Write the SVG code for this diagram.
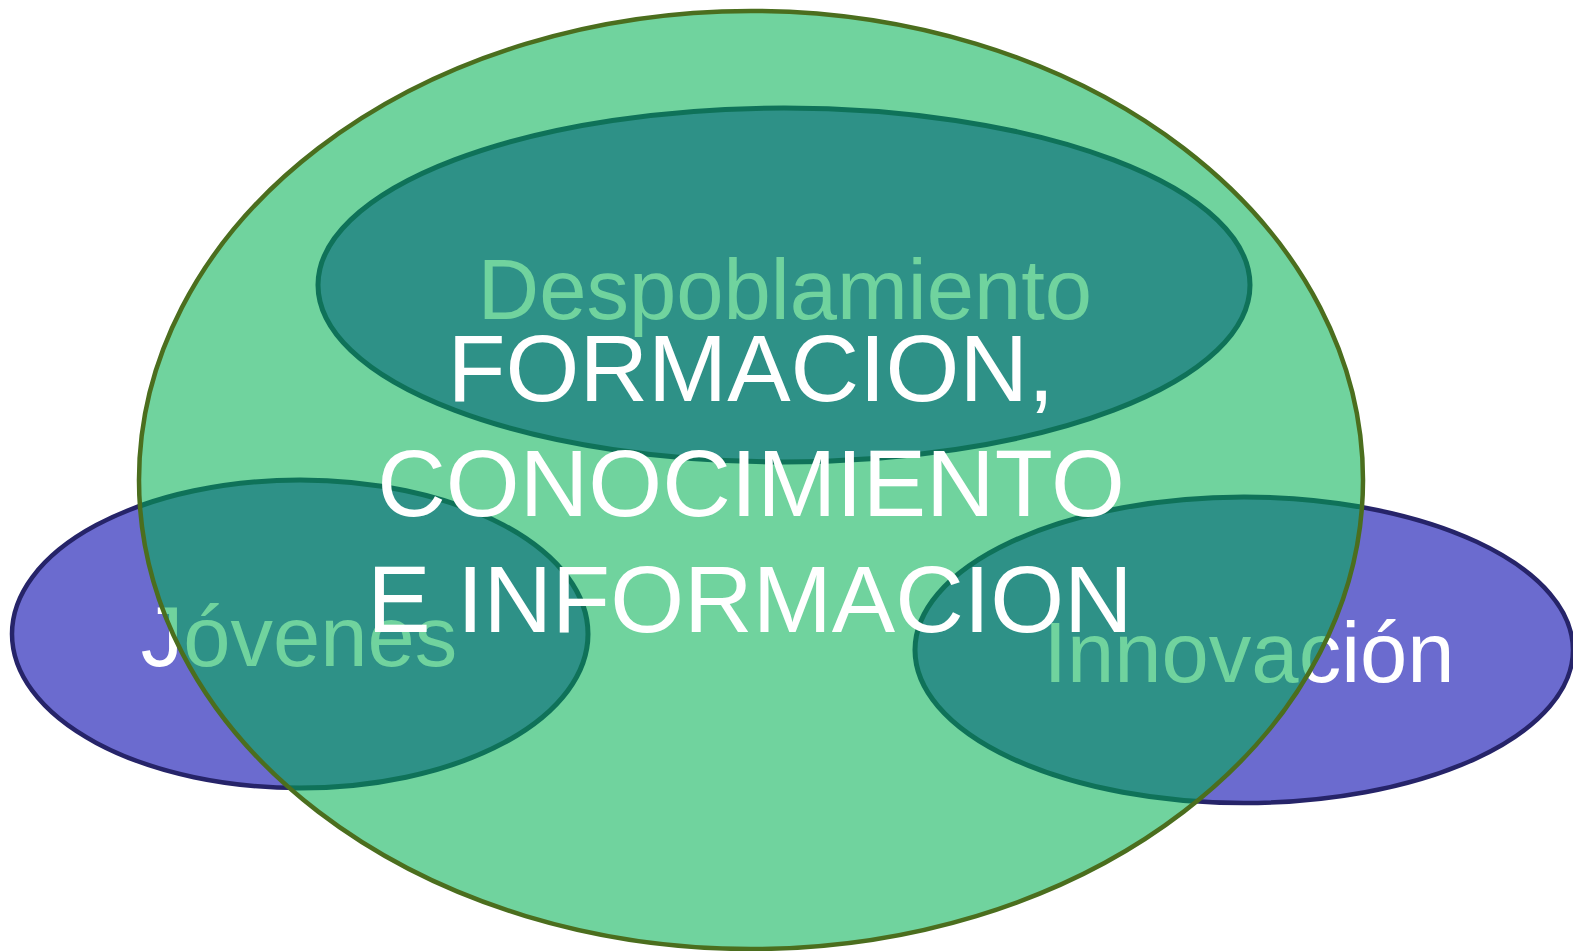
<svg xmlns="http://www.w3.org/2000/svg" width="1573" height="951" viewBox="0 0 1573 951">
<style>
.blue{fill:#6b6bcf;stroke:#262469;stroke-width:4.5}
.teal{fill:#2e9187;stroke:#0f7259;stroke-width:5}
.lbl{font-family:"Liberation Sans",Arial,sans-serif;font-size:85px;text-anchor:middle}
.w{fill:#ffffff}
.g{fill:#70d39e}
.big{font-family:"Liberation Sans",Arial,sans-serif;font-size:95px;text-anchor:middle;fill:#ffffff}
</style>
<defs>
<clipPath id="inGreen"><ellipse cx="751" cy="480" rx="612" ry="469"/></clipPath>
</defs>
<rect width="1573" height="951" fill="#ffffff"/>
<g id="jovenes-base">
<ellipse class="blue" cx="300" cy="634" rx="288" ry="154"/>
<text class="lbl w" x="299" y="666">Jóvenes</text>
</g>
<g id="innovacion-base">
<ellipse class="blue" cx="1244" cy="650" rx="329" ry="153"/>
<text class="lbl w" x="1249" y="682">Innovación</text>
</g>
<g id="formacion-area">
<ellipse cx="751" cy="480" rx="612" ry="469" fill="#70d39e"/>
</g>
<g id="overlaps" clip-path="url(#inGreen)">
<g id="jovenes">
<ellipse class="teal" cx="300" cy="634" rx="288" ry="154"/>
<text class="lbl g" x="299" y="666">Jóvenes</text>
</g>
<g id="innovacion">
<ellipse class="teal" cx="1244" cy="650" rx="329" ry="153"/>
<text class="lbl g" x="1249" y="682">Innovación</text>
</g>
<g id="despoblamiento">
<ellipse class="teal" cx="784" cy="285" rx="466" ry="177"/>
<text class="lbl g" x="785" y="319">Despoblamiento</text>
</g>
</g>
<g id="formacion-outline">
<ellipse cx="751" cy="480" rx="612" ry="469" fill="none" stroke="#4b6e1e" stroke-width="4.5"/>
</g>
<g id="formacion-label">
<text class="big" x="751" y="401">FORMACION,</text>
<text class="big" x="751" y="516">CONOCIMIENTO</text>
<text class="big" x="750" y="632">E INFORMACION</text>
</g>
</svg>
